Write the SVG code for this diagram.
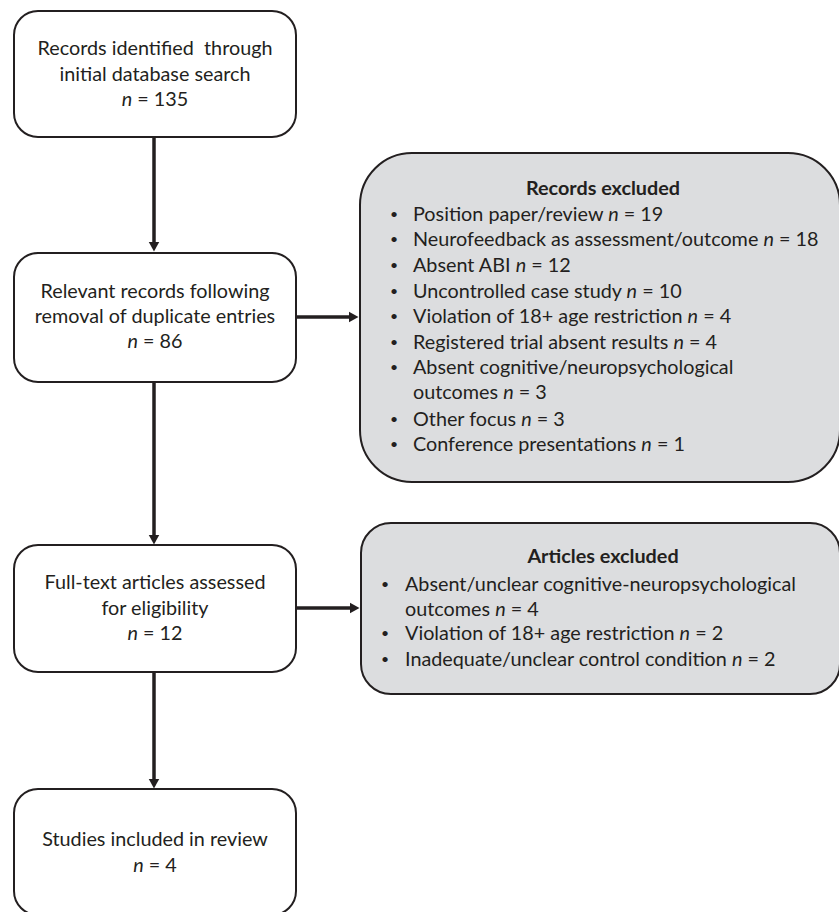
<svg xmlns="http://www.w3.org/2000/svg" width="839" height="912" viewBox="0 0 839 912">
<style>
.box{fill:#ffffff;stroke:#231f20;stroke-width:2}
.gbox{fill:#dcdddf;stroke:#231f20;stroke-width:2}
text{font-family:Lato,"Liberation Sans",sans-serif;font-size:19.8px;fill:#231f20}
.c{text-anchor:middle}
.b{font-weight:bold}
.i{font-style:italic}
.bu{font-size:14px}
.conn{stroke:#231f20;stroke-width:3.5;fill:none}
</style>
<defs>
<marker id="ah" markerWidth="11" markerHeight="12" refX="0.5" refY="6" orient="auto" markerUnits="userSpaceOnUse">
<path d="M0,0.5 L10,6 L0,11.5 Z" fill="#231f20"/>
</marker>
</defs>
<g id="connectors">
<line class="conn" x1="154" y1="137" x2="154" y2="242" marker-end="url(#ah)"/>
<line class="conn" x1="154" y1="382" x2="154" y2="535" marker-end="url(#ah)"/>
<line class="conn" x1="154" y1="672" x2="154" y2="779" marker-end="url(#ah)"/>
<line class="conn" x1="296" y1="317" x2="349" y2="317" marker-end="url(#ah)"/>
<line class="conn" x1="296" y1="608" x2="350" y2="608" marker-end="url(#ah)"/>
</g>
<g id="n1">
<rect class="box" x="14" y="11" width="282" height="126" rx="24"/>
<text class="c" x="155" y="55" xml:space="preserve">Records identified  through</text>
<text class="c" x="155" y="81">initial database search</text>
<text class="c" x="155" y="106"><tspan class="i">n</tspan> = 135</text>
</g>
<g id="n2">
<rect class="box" x="14" y="253" width="282" height="129" rx="24"/>
<text class="c" x="155" y="298">Relevant records following</text>
<text class="c" x="155" y="323">removal of duplicate entries</text>
<text class="c" x="155" y="348"><tspan class="i">n</tspan> = 86</text>
</g>
<g id="n3">
<rect class="box" x="14" y="545" width="282" height="127" rx="24"/>
<text class="c" x="155" y="589">Full-text articles assessed</text>
<text class="c" x="155" y="615">for eligibility</text>
<text class="c" x="155" y="640"><tspan class="i">n</tspan> = 12</text>
</g>
<g id="n4">
<rect class="box" x="14" y="789" width="282" height="126" rx="24"/>
<text class="c" x="155" y="846">Studies included in review</text>
<text class="c" x="155" y="872"><tspan class="i">n</tspan> = 4</text>
</g>
<g id="records-excluded">
<rect class="gbox" x="360" y="153" width="480" height="329" rx="52"/>
<text class="c b" x="603" y="195">Records excluded</text>
<text class="bu" x="390" y="219">•</text><text x="413" y="221">Position paper/review <tspan class="i">n</tspan> = 19</text>
<text class="bu" x="390" y="244">•</text><text x="413" y="246">Neurofeedback as assessment/outcome <tspan class="i">n</tspan> = 18</text>
<text class="bu" x="390" y="270">•</text><text x="413" y="272">Absent ABI <tspan class="i">n</tspan> = 12</text>
<text class="bu" x="390" y="296">•</text><text x="413" y="298">Uncontrolled case study <tspan class="i">n</tspan> = 10</text>
<text class="bu" x="390" y="321">•</text><text x="413" y="323">Violation of 18+ age restriction <tspan class="i">n</tspan> = 4</text>
<text class="bu" x="390" y="347">•</text><text x="413" y="349">Registered trial absent results <tspan class="i">n</tspan> = 4</text>
<text class="bu" x="390" y="372">•</text><text x="413" y="374">Absent cognitive/neuropsychological</text>
<text x="413" y="399">outcomes <tspan class="i">n</tspan> = 3</text>
<text class="bu" x="390" y="424">•</text><text x="413" y="426">Other focus <tspan class="i">n</tspan> = 3</text>
<text class="bu" x="390" y="449">•</text><text x="413" y="451">Conference presentations <tspan class="i">n</tspan> = 1</text>
</g>
<g id="articles-excluded">
<rect class="gbox" x="361" y="523" width="479" height="171" rx="30"/>
<text class="c b" x="603" y="563">Articles excluded</text>
<text class="bu" x="381" y="589">•</text><text x="405" y="591">Absent/unclear cognitive-neuropsychological</text>
<text x="405" y="616">outcomes <tspan class="i">n</tspan> = 4</text>
<text class="bu" x="381" y="638">•</text><text x="405" y="640">Violation of 18+ age restriction <tspan class="i">n</tspan> = 2</text>
<text class="bu" x="381" y="664">•</text><text x="405" y="666">Inadequate/unclear control condition <tspan class="i">n</tspan> = 2</text>
</g>
</svg>
